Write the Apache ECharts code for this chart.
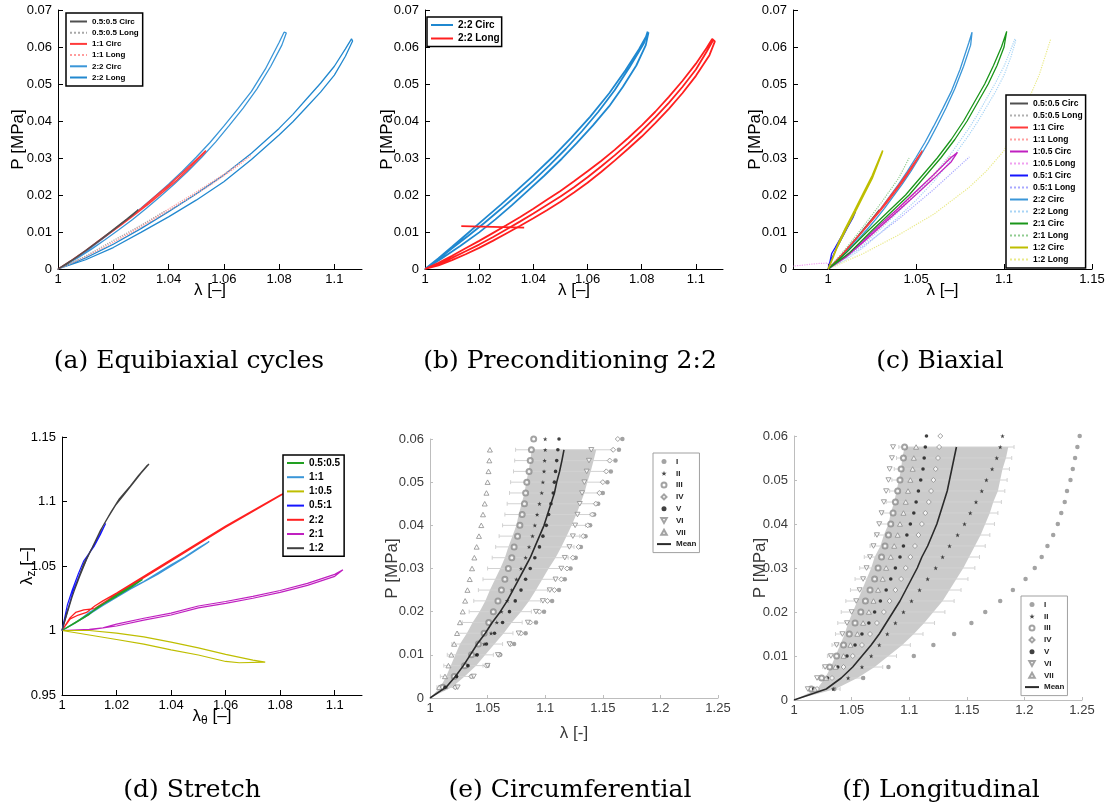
<!DOCTYPE html>
<html><head><meta charset="utf-8">
<script src="https://cdn.jsdelivr.net/npm/echarts@6/dist/echarts.min.js"></script>
<style>html,body{margin:0;padding:0;background:#fff}#c{width:1108px;height:812px}</style>
</head><body><div id="c"></div>
<script>
// ---------- tick labels ----------
const ticksA = [1, 1.02, 1.04, 1.06, 1.08, 1.1];
const ticksP7 = [0, 0.01, 0.02, 0.03, 0.04, 0.05, 0.06, 0.07];
const ticksC = [1, 1.05, 1.1, 1.15];
const ticksDy = [0.95, 1, 1.05, 1.1, 1.15];
const ticksE = [1, 1.05, 1.1, 1.15, 1.2, 1.25];
const ticksP6 = [0, 0.01, 0.02, 0.03, 0.04, 0.05, 0.06];

// ---------- (a) equibiaxial cycles  [lambda, P] ----------
const a22C = [[1,0],[1.005,0.0022],[1.01,0.0047],[1.015,0.0075],[1.02,0.0104],[1.025,0.0133],[1.03,0.0164],[1.035,0.0196],[1.04,0.0229],[1.045,0.0264],[1.05,0.0302],[1.055,0.0342],[1.06,0.0386],[1.065,0.0432],[1.07,0.048],[1.075,0.054],[1.08,0.0612],[1.0818,0.064],[1.0826,0.0638],[1.081,0.0605],[1.077,0.0548],[1.072,0.0487],[1.067,0.0435],[1.062,0.0388],[1.057,0.0343],[1.052,0.0302],[1.047,0.0264],[1.042,0.0229],[1.037,0.0196],[1.032,0.0164],[1.027,0.0134],[1.022,0.0106],[1.017,0.0079],[1.012,0.0053],[1.007,0.0029],[1.003,0.0012],[1,0]];
const a22L = [[1,0],[1.01,0.003],[1.02,0.0067],[1.03,0.0109],[1.04,0.0155],[1.05,0.0203],[1.06,0.0254],[1.07,0.0313],[1.08,0.038],[1.085,0.0418],[1.09,0.046],[1.095,0.0502],[1.1,0.0548],[1.104,0.0595],[1.1062,0.0622],[1.1066,0.0616],[1.104,0.0575],[1.1,0.0524],[1.095,0.0478],[1.09,0.0438],[1.085,0.0398],[1.08,0.0362],[1.07,0.0296],[1.06,0.0236],[1.05,0.0186],[1.04,0.0141],[1.03,0.0099],[1.02,0.0058],[1.01,0.0025],[1,0]];
const a11C = [[1,0],[1.005,0.0024],[1.01,0.005],[1.015,0.0078],[1.02,0.0105],[1.025,0.0134],[1.03,0.0163],[1.035,0.0195],[1.04,0.0226],[1.045,0.026],[1.05,0.0295],[1.0535,0.032],[1.053,0.0314],[1.048,0.0276],[1.043,0.024],[1.038,0.0208],[1.033,0.0177],[1.028,0.0148],[1.023,0.012],[1.018,0.0093],[1.013,0.0066],[1.008,0.0039],[1.003,0.0014],[1,0]];
const a11L = [[1,0],[1.01,0.0033],[1.02,0.0072],[1.03,0.0116],[1.04,0.0162],[1.05,0.0208],[1.06,0.0256],[1.0697,0.0306],[1.065,0.0278],[1.055,0.0226],[1.045,0.018],[1.035,0.0135],[1.025,0.0092],[1.015,0.0052],[1.005,0.0016],[1,0]];
const a0505C = [[1,0],[1.005,0.0024],[1.01,0.005],[1.015,0.0078],[1.02,0.0107],[1.025,0.0136],[1.029,0.016],[1.027,0.0146],[1.022,0.0117],[1.017,0.0088],[1.012,0.006],[1.007,0.0033],[1.003,0.0012],[1,0]];
const a0505L = [[1,0],[1.01,0.0035],[1.02,0.0077],[1.03,0.0118],[1.039,0.0158]];

// ---------- (b) preconditioning 2:2 (three cycles per direction) ----------
const b22C = [[1,0],[1.005,0.0029],[1.01,0.006],[1.016,0.0098],[1.022,0.0136],[1.028,0.0174],[1.034,0.0213],[1.04,0.0253],[1.047,0.0302],[1.054,0.0355],[1.061,0.0412],[1.068,0.0475],[1.074,0.0537],[1.079,0.0594],[1.0825,0.064],
  [1.0828,0.0638],[1.0815,0.0605],[1.078,0.055],[1.073,0.0492],[1.068,0.044],[1.062,0.0388],[1.056,0.034],[1.0505,0.0298],[1.044,0.0252],[1.038,0.0212],[1.032,0.0172],[1.026,0.0134],[1.02,0.0099],[1.013,0.0062],[1.006,0.0028],[1,0],
  [1.005,0.0027],[1.01,0.0056],[1.016,0.009],[1.022,0.0125],[1.028,0.0162],[1.034,0.02],[1.04,0.0239],[1.046,0.0281],[1.052,0.0325],[1.058,0.0373],[1.064,0.0425],[1.07,0.0483],[1.0755,0.0545],[1.0808,0.061],[1.0822,0.0642]];
const b22L = [[1,0],[1.005,0.0017],[1.01,0.0036],[1.015,0.0056],[1.02,0.0076],[1.025,0.0097],[1.03,0.0118],[1.035,0.014],[1.04,0.0163],[1.045,0.0187],[1.05,0.0211],[1.055,0.0237],[1.06,0.0264],[1.065,0.0292],[1.07,0.0322],[1.075,0.0354],[1.08,0.0388],[1.085,0.0425],[1.09,0.0465],[1.095,0.0508],[1.1,0.0555],[1.104,0.0598],[1.106,0.0622],
  [1.107,0.0615],[1.105,0.0578],[1.1,0.0522],[1.095,0.0475],[1.09,0.0433],[1.085,0.0394],[1.08,0.0358],[1.075,0.0325],[1.07,0.0293],[1.065,0.0262],[1.06,0.0233],[1.055,0.0207],[1.05,0.0182],[1.045,0.0159],[1.04,0.0137],[1.035,0.0116],[1.03,0.0096],[1.025,0.0076],[1.02,0.0057],[1.015,0.004],[1.01,0.0024],[1.005,0.001],[1,0],
  [1.005,0.0014],[1.01,0.003],[1.015,0.0048],[1.02,0.0066],[1.025,0.0086],[1.03,0.0107],[1.035,0.0128],[1.04,0.015],[1.045,0.0173],[1.05,0.0196],[1.055,0.0221],[1.06,0.0248],[1.065,0.0277],[1.07,0.0307],[1.075,0.0339],[1.08,0.0373],[1.085,0.041],[1.09,0.0449],[1.095,0.0492],[1.1,0.0539],[1.104,0.0588],[1.1065,0.062]];
const bLine = [[1.0134,0.0116],[1.0366,0.0112]];

// ---------- (c) biaxial ----------
const c105C = [[1,0],[1.01,0.0035],[1.02,0.0078],[1.03,0.0122],[1.04,0.0165],[1.05,0.021],[1.06,0.0255],[1.07,0.0302],[1.0735,0.0315],[1.0745,0.031],[1.07,0.029],[1.06,0.0245],[1.05,0.0201],[1.04,0.0158],[1.03,0.0116],[1.02,0.0073],[1.01,0.0032],[1,0]];
const c105L = [[1,0],[1.0,0.0016],[0.995,0.0015],[0.99,0.0013],[0.985,0.001],[0.98,0.0008]];
const c051C = [[1,0],[1.001,0.002],[1.002,0.0042],[1.004,0.0058],[1.006,0.0075],[1.008,0.0092],[1.01,0.011],[1.012,0.0125],[1.014,0.0142],[1.0155,0.0155],[1.014,0.0138],[1.011,0.0112],[1.008,0.0085],[1.005,0.0058],[1.002,0.0028],[1,0]];
const c051L = [[1,0],[1.02,0.0062],[1.04,0.0135],[1.06,0.0215],[1.0803,0.0303]];
const c21C = [[1,0],[1.01,0.0043],[1.022,0.01],[1.033,0.015],[1.044,0.02],[1.053,0.025],[1.062,0.03],[1.07,0.035],[1.077,0.04],[1.083,0.045],[1.089,0.05],[1.094,0.055],[1.0985,0.06],[1.1015,0.0642],[1.1025,0.0638],[1.1,0.06],[1.096,0.055],[1.091,0.05],[1.085,0.045],[1.079,0.04],[1.072,0.035],[1.064,0.03],[1.055,0.025],[1.046,0.02],[1.035,0.015],[1.024,0.01],[1.012,0.0043],[1,0]];
const c21L = [[1,0],[1.01,0.0055],[1.02,0.0115],[1.03,0.0178],[1.04,0.0245],[1.046,0.03]];
const c12C = [[1,0],[1.003,0.0035],[1.006,0.0072],[1.01,0.0112],[1.015,0.0158],[1.02,0.0205],[1.025,0.0252],[1.031,0.032],[1.0305,0.0312],[1.025,0.0245],[1.02,0.0198],[1.015,0.0151],[1.01,0.0106],[1.005,0.0058],[1.002,0.0022],[1,0]];
const c12L = [[1,0],[1.02,0.0042],[1.04,0.0092],[1.06,0.0148],[1.08,0.022],[1.09,0.0265],[1.1,0.032],[1.11,0.0415],[1.12,0.0525],[1.1265,0.0621]];

// ---------- (d) stretch  [lambda_theta, lambda_z] ----------
const d0505 = [[1,1],[1.005,1.006],[1.01,1.0125],[1.013,1.018],[1.02,1.0265],[1.025,1.033],[1.0295,1.0395],[1.029,1.0385],[1.02,1.0275],[1.01,1.013],[1,1]];
const d11 = [[1,1],[1.005,1.006],[1.01,1.014],[1.015,1.02],[1.02,1.027],[1.03,1.038],[1.04,1.051],[1.045,1.057],[1.05,1.064],[1.054,1.069],[1.053,1.0675],[1.045,1.0565],[1.035,1.0435],[1.025,1.032],[1.015,1.0195],[1.008,1.01],[1,1]];
const d22 = [[1,1],[1.003,1.009],[1.006,1.012],[1.009,1.014],[1.012,1.019],[1.015,1.023],[1.02,1.029],[1.03,1.042],[1.04,1.055],[1.05,1.068],[1.06,1.081],[1.07,1.093],[1.08,1.105],[1.082,1.107],[1.08,1.1045],[1.06,1.08],[1.04,1.054],[1.02,1.028],[1.012,1.017],[1.008,1.016],[1.005,1.014],[1.003,1.01],[1,1]];
const d21 = [[1,1],[1.01,1.0008],[1.015,1.002],[1.02,1.005],[1.03,1.0095],[1.04,1.0135],[1.05,1.019],[1.06,1.0225],[1.07,1.0265],[1.08,1.031],[1.09,1.0365],[1.1,1.0435],[1.103,1.047],[1.1,1.042],[1.09,1.035],[1.08,1.0295],[1.07,1.025],[1.06,1.021],[1.05,1.0175],[1.04,1.012],[1.03,1.008],[1.02,1.0035],[1.01,1.0005],[1,1]];
const d105 = [[1,1],[1.01,1.0],[1.02,0.998],[1.03,0.995],[1.04,0.991],[1.05,0.9865],[1.06,0.9815],[1.07,0.977],[1.0745,0.9755],[1.074,0.975],[1.065,0.975],[1.06,0.976],[1.05,0.981],[1.04,0.985],[1.03,0.9895],[1.02,0.993],[1.01,0.9965],[1,1]];
const d051 = [[1,1],[1.001,1.01],[1.002,1.02],[1.0037,1.031],[1.006,1.044],[1.008,1.054],[1.0117,1.065],[1.014,1.074],[1.016,1.083],[1.0155,1.081],[1.013,1.071],[1.01,1.06],[1.007,1.046],[1.004,1.03],[1.002,1.015],[1,1]];
const d12 = [[1,1],[1.0015,1.012],[1.0037,1.026],[1.006,1.04],[1.008,1.052],[1.011,1.064],[1.0141,1.0777],[1.017,1.088],[1.0196,1.097],[1.023,1.106],[1.0264,1.115],[1.029,1.122],[1.0319,1.129],[1.031,1.1275],[1.028,1.12],[1.025,1.112],[1.021,1.102],[1.018,1.092],[1.015,1.081],[1.012,1.068],[1.009,1.055],[1.0065,1.042],[1.004,1.028],[1.002,1.014],[1,1]];

// ---------- (e)/(f) specimens: lambda at pressure levels ----------
const pLev = [0.0025,0.005,0.0075,0.01,0.0125,0.015,0.0175,0.02,0.0225,0.025,0.0275,0.03,0.0325,0.035,0.0375,0.04,0.0425,0.045,0.0475,0.05,0.0525,0.055,0.0575,0.06];
const eI   = [1.022,1.036,1.050,1.061,1.073,1.083,1.092,1.099,1.106,1.112,1.117,1.122,1.1265,1.131,1.135,1.139,1.1425,1.146,1.150,1.154,1.157,1.161,1.164,1.167];
const eII  = [1.014,1.023,1.032,1.040,1.047,1.053,1.058,1.062,1.067,1.071,1.075,1.079,1.083,1.086,1.089,1.091,1.093,1.095,1.097,1.098,1.099,1.0995,1.100,1.100];
const eIII = [1.011,1.021,1.030,1.036,1.042,1.047,1.051,1.055,1.059,1.062,1.065,1.068,1.071,1.073,1.076,1.078,1.080,1.082,1.083,1.084,1.086,1.087,1.088,1.090];
const eIV  = [1.022,1.036,1.049,1.060,1.070,1.079,1.087,1.095,1.102,1.108,1.114,1.119,1.124,1.129,1.133,1.137,1.141,1.144,1.147,1.150,1.153,1.156,1.159,1.163];
const eV   = [1.013,1.023,1.033,1.041,1.049,1.056,1.063,1.069,1.074,1.079,1.083,1.087,1.091,1.095,1.098,1.101,1.103,1.105,1.107,1.108,1.109,1.110,1.111,1.112];
const eVI  = [1.024,1.038,1.050,1.059,1.069,1.077,1.085,1.092,1.098,1.104,1.109,1.114,1.117,1.121,1.124,1.126,1.128,1.130,1.132,1.134,1.136,1.138,1.140];
const eVII = [1.008,1.013,1.016,1.0185,1.021,1.0235,1.026,1.0284,1.0305,1.0325,1.0345,1.0365,1.0385,1.0405,1.0425,1.0445,1.046,1.0475,1.049,1.050,1.0508,1.0515,1.052];
const eMean = [1.014,1.022,1.029,1.035,1.041,1.048,1.054,1.061,1.067,1.072,1.077,1.082,1.087,1.091,1.095,1.099,1.102,1.105,1.108,1.110,1.1125,1.1145,1.1163];
const eSd   = [0.005,0.008,0.011,0.013,0.015,0.016,0.017,0.018,0.019,0.020,0.0205,0.021,0.022,0.023,0.0235,0.024,0.025,0.0255,0.026,0.0265,0.027,0.0275,0.028];
const eBar  = [0.008,0.013,0.017,0.020,0.022,0.024,0.026,0.027,0.029,0.030,0.031,0.032,0.033,0.034,0.035,0.036,0.037,0.038,0.039,0.040,0.040,0.041,0.042];

const fI   = [1.035,1.060,1.082,1.104,1.121,1.139,1.154,1.166,1.179,1.190,1.201,1.209,1.215,1.220,1.225,1.229,1.232,1.235,1.237,1.240,1.242,1.244,1.246,1.248];
const fII  = [1.034,1.047,1.059,1.067,1.074,1.081,1.088,1.095,1.102,1.109,1.116,1.123,1.129,1.135,1.142,1.148,1.153,1.158,1.163,1.167,1.172,1.176,1.179,1.181];
const fIII = [1.015,1.024,1.031,1.037,1.043,1.048,1.053,1.058,1.062,1.066,1.070,1.073,1.076,1.079,1.082,1.084,1.086,1.088,1.090,1.092,1.093,1.095,1.096];
const fIV  = [1.020,1.033,1.043,1.051,1.059,1.066,1.072,1.078,1.083,1.088,1.093,1.097,1.101,1.105,1.108,1.111,1.114,1.117,1.119,1.121,1.123,1.125,1.126,1.127];
const fV   = [1.017,1.029,1.038,1.046,1.053,1.059,1.065,1.070,1.075,1.080,1.084,1.088,1.092,1.095,1.098,1.101,1.104,1.106,1.108,1.110,1.112,1.113,1.114,1.115];
const fVI  = [1.012,1.020,1.027,1.032,1.037,1.042,1.046,1.050,1.054,1.057,1.060,1.063,1.066,1.069,1.072,1.074,1.076,1.078,1.080,1.082,1.083,1.085,1.086];
const fVII = [1.018,1.028,1.036,1.043,1.049,1.055,1.060,1.065,1.069,1.073,1.077,1.080,1.084,1.087,1.090,1.092,1.095,1.097,1.099,1.101,1.103,1.104,1.106];
const fMean = [1.028,1.041,1.051,1.059,1.067,1.074,1.080,1.086,1.092,1.097,1.102,1.107,1.111,1.116,1.120,1.124,1.127,1.130,1.133,1.135,1.137,1.139,1.141];
const fSd   = [0.008,0.014,0.019,0.023,0.027,0.030,0.033,0.035,0.037,0.038,0.039,0.040,0.041,0.041,0.042,0.042,0.043,0.043,0.044,0.044,0.044,0.045,0.045];
const fBar  = [0.012,0.020,0.026,0.030,0.034,0.038,0.042,0.045,0.047,0.048,0.049,0.050,0.050,0.050,0.050,0.050,0.050,0.050,0.050,0.050,0.050,0.050,0.050];

const captions = [
  ['(a) Equibiaxial cycles', 189, 361], ['(b) Preconditioning 2:2', 570, 361], ['(c) Biaxial', 940, 361],
  ['(d) Stretch', 192, 790], ['(e) Circumferential', 570, 790], ['(f) Longitudinal', 941, 790]
];

// ---------- helpers ----------
const FONT = '"Liberation Sans", Arial, sans-serif';
const Z = n => '\u200b'.repeat(n);
const strip = s => s.replace(/\u200b/g, '');
const fmt = v => String(+(+v).toFixed(4));

function ax(kind, gi, min, max, ticks, name, gap, gray, rich) {
  const col = gray ? '#3a3a3a' : '#000';
  const lc = gray ? '#bdbdbd' : '#000';
  return {
    type: 'value', gridIndex: gi, min: min, max: max,
    axisLine: {show: true, onZero: false, lineStyle: {color: lc, width: 1}},
    axisTick: {show: true, inside: true, length: gray ? 3 : 5, customValues: ticks, lineStyle: {color: lc}},
    axisLabel: {customValues: ticks, formatter: fmt, color: col, fontSize: 13, fontFamily: FONT, margin: kind === 'x' ? 4 : 6},
    splitLine: {show: false},
    name: name, nameLocation: 'middle', nameGap: gap, nameMoveOverlap: false,
    nameTextStyle: Object.assign({fontSize: 17, fontFamily: FONT, color: col}, rich ? {rich: rich} : {})
  };
}
function L(gi, name, data, color, o) {
  o = o || {};
  return {type: 'line', name: name, data: data, xAxisIndex: gi, yAxisIndex: gi, symbol: 'none', smooth: false,
    silent: true, animation: false, clip: true, z: o.z || 2,
    lineStyle: {color: color, width: o.w || 1.2, type: o.t || 'solid'}, itemStyle: {color: color}};
}
function S(gi, name, lam, symbol, size, color, o) {
  o = o || {};
  const st = o.open ? {color: '#fff', borderColor: color, borderWidth: 1} : {color: color};
  return {type: 'scatter', name: name, data: lam.map((l, i) => [l, pLev[i]]), xAxisIndex: gi, yAxisIndex: gi,
    symbol: symbol, symbolSize: size, symbolKeepAspect: true, silent: true, animation: false, z: 4, itemStyle: st};
}
function band(gi, mean, sd) {
  const left = mean.map((m, i) => [m - sd[i], pLev[i]]);
  const right = mean.map((m, i) => [m + sd[i], pLev[i]]).reverse();
  const poly = [[1, 0]].concat(left, right);
  return {type: 'custom', xAxisIndex: gi, yAxisIndex: gi, silent: true, animation: false, z: 2, data: [[1, 0]],
    renderItem: (params, api) => ({type: 'polygon', shape: {points: poly.map(p => api.coord(p))},
      style: {fill: '#c2c2c2', opacity: 0.85}})};
}
function bars(gi, mean, bar) {
  const rows = mean.map((m, i) => [m - bar[i], m + bar[i], pLev[i]]);
  return {type: 'custom', xAxisIndex: gi, yAxisIndex: gi, silent: true, animation: false, z: 3, data: rows,
    encode: {x: [0, 1], y: 2},
    renderItem: (params, api) => {
      const a = api.coord([api.value(0), api.value(2)]), b = api.coord([api.value(1), api.value(2)]);
      const st = {stroke: '#d2d2d2', lineWidth: 1};
      return {type: 'group', children: [
        {type: 'line', shape: {x1: a[0], y1: a[1], x2: b[0], y2: b[1]}, style: st},
        {type: 'line', shape: {x1: a[0], y1: a[1] - 2, x2: a[0], y2: a[1] + 2}, style: st},
        {type: 'line', shape: {x1: b[0], y1: b[1] - 2, x2: b[0], y2: b[1] + 2}, style: st}]};
    }};
}
function meanLine(gi, name, mean) {
  return L(gi, name, [[1, 0]].concat(mean.map((m, i) => [m, pLev[i]])), '#2b2b2b', {w: 1.6, z: 5});
}
function legend(left, top, names, o) {
  const lg = {left: left, top: top, orient: 'vertical', data: names, selectedMode: false, formatter: strip,
    itemWidth: o.iw, itemHeight: o.ih, itemGap: o.gap, itemTextGap: o.tg, padding: o.pad, symbolKeepAspect: true,
    borderColor: o.bc || '#000', borderWidth: o.bw || 1.5, backgroundColor: '#fff', borderRadius: 0,
    textStyle: {fontSize: o.fs, fontWeight: 'bold', fontFamily: FONT, color: o.tc || '#000', lineHeight: o.lh || o.ih}};
  if (o.hideSym) lg.itemStyle = {opacity: 0};
  return lg;
}
const sub = {m: {fontSize: 17, fontFamily: FONT, lineHeight: 22, color: '#000'},
             s: {fontSize: 12, fontFamily: FONT, lineHeight: 12, verticalAlign: 'bottom', color: '#000'}};

const STAR = 'path://M5,0L6.2,3.6L10,3.6L7,5.9L8.1,9.5L5,7.3L1.9,9.5L3,5.9L0,3.6L3.8,3.6Z';
const DIAM = 'path://M5,0L10,5L5,10L0,5Z';
const TRI_UP = 'path://M5,0L10,9L0,9Z';
const TRI_DN = 'path://M0,0L10,0L5,9Z';
const G = '#8c8c8c';
function specimens(gi, z, arr) {
  return [
    S(gi, 'I' + z, arr[0], 'circle', 4.5, G),
    S(gi, 'II' + z, arr[1], STAR, 4.5, '#1a1a1a'),
    S(gi, 'III' + z, arr[2], 'emptyCircle', 5, G),
    S(gi, 'IV' + z, arr[3], DIAM, 5, G, {open: true}),
    S(gi, 'V' + z, arr[4], 'circle', 3.6, '#111'),
    S(gi, 'VI' + z, arr[5], TRI_DN, 5, G, {open: true}),
    S(gi, 'VII' + z, arr[6], TRI_UP, 5, G, {open: true})
  ];
}

// ---------- series ----------
const z1 = Z(1), z2 = Z(2), z3 = Z(3), z4 = Z(4), z5 = Z(5), z6 = Z(6);
const BLUE = '#3a96d8';
const series = [
  // (a)
  L(0, '2:2 Long' + z1, a22L, '#2288cf', {w: 1.3}),
  L(0, '2:2 Circ' + z1, a22C, BLUE, {w: 1.3}),
  L(0, '1:1 Long' + z1, a11L, '#ff9c9c', {t: 'dotted'}),
  L(0, '1:1 Circ' + z1, a11C, '#ff3b3b', {w: 1.4}),
  L(0, '0.5:0.5 Long' + z1, a0505L, '#a8a8a8', {t: 'dotted'}),
  L(0, '0.5:0.5 Circ' + z1, a0505C, '#505050'),
  // (b)
  L(1, '2:2 Circ' + z2, b22C, '#1f88d0', {w: 1.8}),
  L(1, '2:2 Long' + z2, b22L, '#ff1f1f', {w: 1.8}),
  L(1, '2:2 Long' + z2, bLine, '#ff1f1f', {w: 1.8}),
  // (c)
  L(2, '0.5:0.5 Long' + z3, a0505L, '#b0b0b0', {t: 'dotted'}),
  L(2, '1:1 Long' + z3, a11L, '#ffa0a0', {t: 'dotted'}),
  L(2, '1:0.5 Long' + z3, c105L, '#f0a0f0', {t: 'dotted'}),
  L(2, '0.5:1 Long' + z3, c051L, '#a8a8ff', {t: 'dotted'}),
  L(2, '2:2 Long' + z3, a22L, '#a8d4f5', {t: 'dotted'}),
  L(2, '2:1 Long' + z3, c21L, '#90cc90', {t: 'dotted'}),
  L(2, '1:2 Long' + z3, c12L, '#eaea8a', {t: 'dotted'}),
  L(2, '2:2 Circ' + z3, a22C, BLUE, {w: 1.3}),
  L(2, '0.5:0.5 Circ' + z3, a0505C, '#505050'),
  L(2, '1:1 Circ' + z3, a11C, '#ff3b3b', {w: 1.3}),
  L(2, '1:0.5 Circ' + z3, c105C, '#c020c0', {w: 1.3}),
  L(2, '0.5:1 Circ' + z3, c051C, '#1515ff', {w: 1.3}),
  L(2, '2:1 Circ' + z3, c21C, '#1a961a', {w: 1.3}),
  L(2, '1:2 Circ' + z3, c12C, '#bebe00', {w: 1.6}),
  // (d)
  L(3, '2:2' + z4, d22, '#ff2020', {w: 1.3}),
  L(3, '1:1' + z4, d11, BLUE, {w: 1.3}),
  L(3, '0.5:0.5' + z4, d0505, '#22a022', {w: 1.3}),
  L(3, '2:1' + z4, d21, '#c020c0', {w: 1.2}),
  L(3, '1:0.5' + z4, d105, '#bebe00', {w: 1.2}),
  L(3, '0.5:1' + z4, d051, '#1515ff', {w: 1.2}),
  L(3, '1:2' + z4, d12, '#404040', {w: 1.2}),
  // (e)
  band(4, eMean, eSd), bars(4, eMean, eBar)
].concat(specimens(4, z5, [eI, eII, eIII, eIV, eV, eVI, eVII]), [meanLine(4, 'Mean' + z5, eMean),
  band(5, fMean, fSd), bars(5, fMean, fBar)],
  specimens(5, z6, [fI, fII, fIII, fIV, fV, fVI, fVII]), [meanLine(5, 'Mean' + z6, fMean)]);

const specNames = z => ['I', 'II', 'III', 'IV', 'V', 'VI', 'VII'].map(n => n + z)
  .concat([{name: 'Mean' + z, itemStyle: {opacity: 0}}]);

const option = {
  backgroundColor: '#fff',
  animation: false,
  grid: [
    {left: 58, top: 10, width: 304, height: 259},
    {left: 425, top: 10, width: 298, height: 259},
    {left: 793, top: 10, width: 299, height: 259},
    {left: 62, top: 437, width: 300, height: 258},
    {left: 430, top: 439, width: 288, height: 259},
    {left: 794, top: 436, width: 288, height: 264}
  ],
  xAxis: [
    ax('x', 0, 1, 1.11, ticksA, 'λ [–]', 12.5),
    ax('x', 1, 1, 1.11, ticksA, 'λ [–]', 12.5),
    ax('x', 2, 0.98, 1.15, ticksC, 'λ [–]', 12.5),
    ax('x', 3, 1, 1.11, ticksA, '{m|λ}{s|θ}{m| [–]}', 10, false, sub),
    ax('x', 4, 1, 1.25, ticksE, 'λ [-]', 26.5, true),
    ax('x', 5, 1, 1.25, ticksE, '', 20, true)
  ],
  yAxis: [
    ax('y', 0, 0, 0.07, ticksP7, 'P [MPa]', 31),
    ax('y', 1, 0, 0.07, ticksP7, 'P [MPa]', 29.5),
    ax('y', 2, 0, 0.07, ticksP7, 'P [MPa]', 29.5),
    ax('y', 3, 0.95, 1.15, ticksDy, '{m|λ}{s|z}{m| [–]}', 24, false, sub),
    ax('y', 4, 0, 0.06, ticksP6, 'P [MPa]', 29.5, true),
    ax('y', 5, 0, 0.06, ticksP6, 'P [MPa]', 25.5, true)
  ],
  legend: [
    legend(66, 13, ['0.5:0.5 Circ', '0.5:0.5 Long', '1:1 Circ', '1:1 Long', '2:2 Circ', '2:2 Long'].map(n => n + z1),
      {iw: 17, ih: 8, gap: 3.2, tg: 2, pad: [4.5, 4, 4.5, 3], fs: 8, hideSym: true}),
    legend(427, 17, ['2:2 Circ', '2:2 Long'].map(n => n + z2),
      {iw: 22, ih: 10, gap: 3.5, tg: 2, pad: [3, 2, 3, 3], fs: 10, hideSym: true}),
    legend(1006, 95, ['0.5:0.5 Circ', '0.5:0.5 Long', '1:1 Circ', '1:1 Long', '1:0.5 Circ', '1:0.5 Long', '0.5:1 Circ', '0.5:1 Long',
      '2:2 Circ', '2:2 Long', '2:1 Circ', '2:1 Long', '1:2 Circ', '1:2 Long'].map(n => n + z3),
      {iw: 18, ih: 8.5, gap: 3.0, tg: 3, pad: [4, 3, 4, 3], fs: 8.5, hideSym: true}),
    legend(283, 455, ['0.5:0.5', '1:1', '1:0.5', '0.5:1', '2:2', '2:1', '1:2'].map(n => n + z4),
      {iw: 17, ih: 9, gap: 4.2, tg: 2, pad: [3, 4, 3, 3], fs: 10, hideSym: true}),
    legend(653, 453, specNames(z5), {iw: 14, ih: 5, lh: 8, gap: 3.8, tg: 3, pad: [4.5, 3, 4.5, 3], fs: 8, bc: '#a0a0a0', bw: 1, tc: '#222'}),
    legend(1021, 596, specNames(z6), {iw: 14, ih: 5, lh: 8, gap: 3.8, tg: 3, pad: [4.5, 3, 4.5, 3], fs: 8, bc: '#a0a0a0', bw: 1, tc: '#222'})
  ],
  graphic: captions.map(c => ({type: 'text', x: c[1], y: c[2], silent: true,
    style: {text: c[0], font: '25px "DejaVu Serif", serif', fill: '#000', align: 'center', verticalAlign: 'middle',
      textAlign: 'center', textVerticalAlign: 'middle'}})),
  series: series
};

const chart = echarts.init(document.getElementById('c'), null, {renderer: 'canvas'});
chart.setOption(option);
</script></body></html>
